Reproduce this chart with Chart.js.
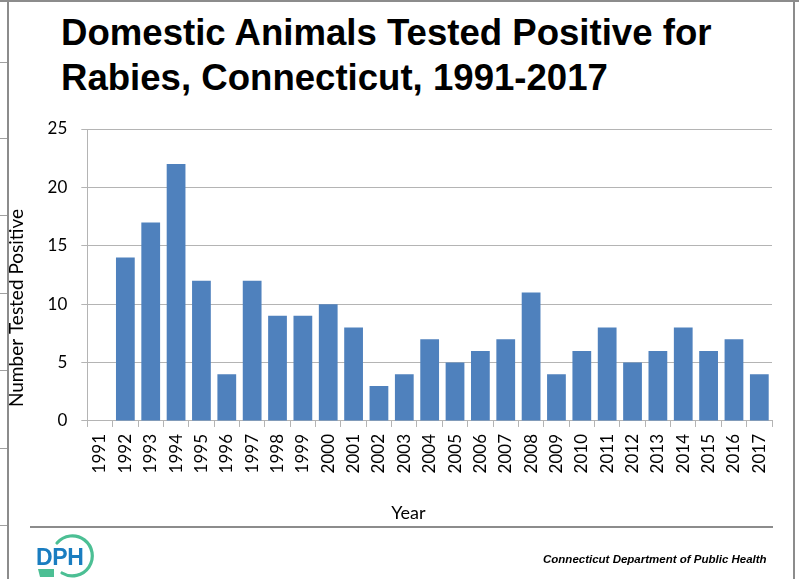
<!DOCTYPE html>
<html>
<head>
<meta charset="utf-8">
<script src="https://cdn.jsdelivr.net/npm/chart.js@4/dist/chart.umd.min.js"></script>
<style>
  html, body { margin: 0; padding: 0; background: #fff; }
  body { width: 799px; height: 579px; position: relative; overflow: hidden; }
  #chart { position: absolute; left: 0; top: 0; }
  .title {
    position: absolute; left: 61px; top: 10px;
    font-family: "Liberation Sans", Arial, sans-serif; font-weight: bold;
    font-size: 36.6px; line-height: 45px; color: #000; white-space: nowrap;
  }
  .footer {
    position: absolute; left: 543px; top: 552px;
    font-family: "Liberation Sans", Arial, sans-serif; font-weight: bold; font-style: italic;
    font-size: 11.5px; line-height: 14px; color: #000; white-space: nowrap;
  }
  .rule { position: absolute; background: #8c8c8c; }
  .rule.light { background: #a0a0a0; }
  #logo { position: absolute; left: 30px; top: 532px; }
</style>
</head>
<body>
<!-- slide frame -->
<div class="rule" style="left:0;top:0;width:799px;height:2px;"></div>
<div class="rule" style="left:7px;top:0;width:2px;height:579px;"></div>
<div class="rule" style="left:793px;top:0;width:2px;height:579px;"></div>
<div class="rule light" style="left:0;top:62px;width:7px;height:1px;"></div>
<div class="rule light" style="left:0;top:138px;width:7px;height:1px;"></div>
<div class="rule light" style="left:0;top:215px;width:7px;height:1px;"></div>
<div class="rule light" style="left:0;top:293px;width:7px;height:1px;"></div>
<div class="rule light" style="left:0;top:370px;width:7px;height:1px;"></div>
<div class="rule light" style="left:0;top:448px;width:7px;height:1px;"></div>
<div class="rule light" style="left:0;top:525px;width:7px;height:1px;"></div>
<div class="rule" style="left:30px;top:526px;width:743px;height:2px;"></div>

<div class="title">Domestic Animals Tested Positive for<br>Rabies, Connecticut, 1991-2017</div>

<canvas id="chart" width="799" height="579"></canvas>

<svg id="logo" width="70" height="47" viewBox="0 0 70 47">
  <path d="M 27 11 A 20 20 0 1 1 32 41" fill="none" stroke="#4cbf94" stroke-width="3.2" stroke-linecap="round"/>
  <path d="M 8 37 L 24 37 L 24 45 L 10 45 Z" fill="#4cbf94"/>
  <text x="6" y="33" font-family="Liberation Sans, Arial, sans-serif" font-weight="bold" font-size="23" fill="#1a7dc0" letter-spacing="-0.3">DPH</text>
</svg>

<div class="footer">Connecticut Department of Public Health</div>

<script>
// Rabies-positive domestic animals by year
const years = ['1991','1992','1993','1994','1995','1996','1997','1998','1999','2000',
               '2001','2002','2003','2004','2005','2006','2007','2008','2009','2010',
               '2011','2012','2013','2014','2015','2016','2017'];
const positives = [0,14,17,22,12,4,12,9,9,10,
                   8,3,4,7,5,6,7,11,4,6,
                   8,5,6,8,6,7,4];
const yTickValues = [0,5,10,15,20,25];
const xAxisTitle = 'Year';
const yAxisTitle = 'Number Tested Positive';

const gridGray = '#b4b4b4';
const fontFamily = 'Lato, "Open Sans", sans-serif';
const axisFont = { family: fontFamily, size: 17 };

// Axis titles sit slightly off-centre, so they are placed relative to the plot area
const axisTitles = {
  id: 'axisTitles',
  afterDraw(chart) {
    const { ctx, chartArea } = chart;
    ctx.save();
    ctx.fillStyle = '#000';
    ctx.textAlign = 'center';
    ctx.textBaseline = 'middle';
    ctx.font = '18px ' + fontFamily;
    ctx.fillText(xAxisTitle, chartArea.left + 321, chartArea.bottom + 92);
    ctx.translate(17, chartArea.bottom - 113);
    ctx.rotate(-Math.PI / 2);
    ctx.font = '19px ' + fontFamily;
    ctx.fillText(yAxisTitle, 0, 0);
    ctx.restore();
  }
};

new Chart(document.getElementById('chart'), {
  type: 'bar',
  data: {
    labels: years,
    datasets: [{
      data: positives,
      backgroundColor: '#4f81bd',
      borderWidth: 0,
      barPercentage: 0.74,
      categoryPercentage: 1.0
    }]
  },
  options: {
    responsive: false,
    animation: false,
    layout: { padding: { left: 33.6, right: 27, top: 129, bottom: 98.6 } },
    plugins: { legend: { display: false }, tooltip: { enabled: false } },
    scales: {
      x: {
        offset: true,
        grid: { display: true, drawOnChartArea: false, offset: true, tickLength: 6, color: gridGray, tickColor: gridGray },
        border: { color: gridGray },
        ticks: { autoSkip: false, minRotation: 90, maxRotation: 90, padding: 7, color: '#000', font: axisFont }
      },
      y: {
        min: yTickValues[0],
        max: yTickValues[yTickValues.length - 1],
        afterBuildTicks: (scale) => { scale.ticks = yTickValues.map(v => ({ value: v })); },
        grid: { color: gridGray, tickColor: gridGray, tickLength: 6 },
        border: { color: gridGray },
        ticks: { padding: 14, color: '#000', font: axisFont }
      }
    }
  },
  plugins: [axisTitles]
});
</script>
</body>
</html>
